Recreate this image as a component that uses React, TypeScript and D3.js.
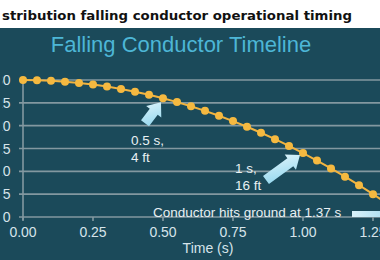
import React from "react";
import * as d3 from "d3";

const times = [0, 0.05, 0.1, 0.15, 0.2, 0.25, 0.3, 0.35, 0.4, 0.45, 0.5, 0.55, 0.6, 0.65, 0.7, 0.75, 0.8, 0.85, 0.9, 0.95, 1.0, 1.05, 1.1, 1.15, 1.2, 1.25, 1.3, 1.35];
const heights = [30, 29.96, 29.84, 29.64, 29.36, 29.0, 28.56, 28.04, 27.44, 26.76, 26.0, 25.16, 24.24, 23.24, 22.16, 21.0, 19.76, 18.44, 17.04, 15.56, 14.0, 12.36, 10.64, 8.84, 6.96, 5.0, 2.96, 0.84];
const xTicks = [0, 0.25, 0.5, 0.75, 1.0, 1.25];
const yTicks = [0, 5, 10, 15, 20, 25, 30];

const W = 380, H = 260;
const BG = "#1b4a5a";

function Arrow({ x1, y1, x2, y2, shaft = 10, head = 19, headLen = 12, fill }: any) {
  const len = Math.hypot(x2 - x1, y2 - y1);
  const ang = (Math.atan2(y2 - y1, x2 - x1) * 180) / Math.PI;
  const s = shaft / 2, h = head / 2;
  const d = `M0,${-s} L${len - headLen},${-s} L${len - headLen},${-h} L${len},0 L${len - headLen},${h} L${len - headLen},${s} L0,${s} Z`;
  return <path d={d} fill={fill} transform={`translate(${x1},${y1}) rotate(${ang})`} />;
}

export default function App() {
  const x = d3.scaleLinear().domain([0, 1.25]).range([23, 373]);
  const y = d3.scaleLinear().domain([0, 30]).range([217, 80]);
  const pts = times.map((t, i) => [t, heights[i]] as [number, number]);
  const line = d3.line<[number, number]>().x(d => x(d[0])).y(d => y(d[1]));
  const font = "'Liberation Sans', Arial, sans-serif";
  const p05 = [x(0.5), y(26)];
  const p10 = [x(1.0), y(14)];
  return (
    <div style={{ position: "absolute", left: 0, top: 0 }}>
      <svg width={W} height={H} style={{ display: "block" }}>
        <defs>
          <linearGradient id="ag" x1="0" y1="1" x2="1" y2="0">
            <stop offset="0" stopColor="#8fd6ee" />
            <stop offset="1" stopColor="#e4f6fb" />
          </linearGradient>
          <linearGradient id="bg2" x1="0" y1="0" x2="1" y2="0">
            <stop offset="0" stopColor="#d9f2fa" />
            <stop offset="1" stopColor="#8fd3ec" />
          </linearGradient>
          <clipPath id="ylab">
            <rect x={2.5} y={0} width={40} height={H} />
          </clipPath>
        </defs>
        <rect x={0} y={0} width={W} height={H} fill="#ffffff" />
        <rect x={0} y={28} width={W} height={H - 28} fill={BG} />
        <text x={2} y={20} fontFamily="'DejaVu Sans', Verdana, sans-serif" fontWeight="bold" fontSize={12.5} fill="#111" textLength={350} lengthAdjust="spacingAndGlyphs">
          stribution falling conductor operational timing
        </text>
        <text x={181} y={52} textAnchor="middle" fontFamily={font} fontSize={22} fill="#4db6d6">
          Falling Conductor Timeline
        </text>
        {yTicks.map(v => (
          <g key={v}>
            <line x1={19} x2={W} y1={y(v)} y2={y(v)} stroke="#8398a0" strokeWidth={1.6} />
            <text x={10.5} y={y(v) + 5} textAnchor="end" fontFamily={font} fontSize={14} fill="#d6e4ea" clipPath="url(#ylab)">{v}</text>
          </g>
        ))}
        <line x1={23} x2={23} y1={y(30)} y2={y(0) + 3} stroke="#8398a0" strokeWidth={1.6} />
        {xTicks.map(v => (
          <g key={v}>
            <line x1={x(v)} x2={x(v)} y1={y(0)} y2={y(0) + 4} stroke="#8398a0" strokeWidth={1.6} />
            <text x={x(v)} y={237} textAnchor="middle" fontFamily={font} fontSize={14} fill="#d6e4ea">{v.toFixed(2)}</text>
          </g>
        ))}
        <text x={208} y={253} textAnchor="middle" fontFamily={font} fontSize={14} fill="#d6e4ea">Time (s)</text>
        <path d={line(pts) || ""} fill="none" stroke="#f2b440" strokeWidth={2} />
        {pts.map((p, i) => (
          <circle key={i} cx={x(p[0])} cy={y(p[1])} r={4} fill="#f5b940" />
        ))}
        <Arrow x1={p05[0] - 18} y1={p05[1] + 25} x2={p05[0] - 2} y2={p05[1] + 4} fill="url(#ag)" />
        <Arrow x1={p10[0] - 37} y1={p10[1] + 27} x2={p10[0] - 3} y2={p10[1] + 2} fill="url(#ag)" />
        <text x={131} y={145} fontFamily={font} fontSize={13.5} fill="#e8f0f3">0.5 s,</text>
        <text x={131} y={162} fontFamily={font} fontSize={13.5} fill="#e8f0f3">4 ft</text>
        <text x={235} y={173} fontFamily={font} fontSize={13.5} fill="#e8f0f3">1 s,</text>
        <text x={235} y={190} fontFamily={font} fontSize={13.5} fill="#e8f0f3">16 ft</text>
        <text x={153} y={217} fontFamily={font} fontSize={13.5} fill="#e8f0f3">Conductor hits ground at 1.37 s</text>
        <Arrow x1={352} y1={214} x2={x(1.37)} y2={214} shaft={6} head={12} headLen={8} fill="url(#bg2)" />
      </svg>
    </div>
  );
}
